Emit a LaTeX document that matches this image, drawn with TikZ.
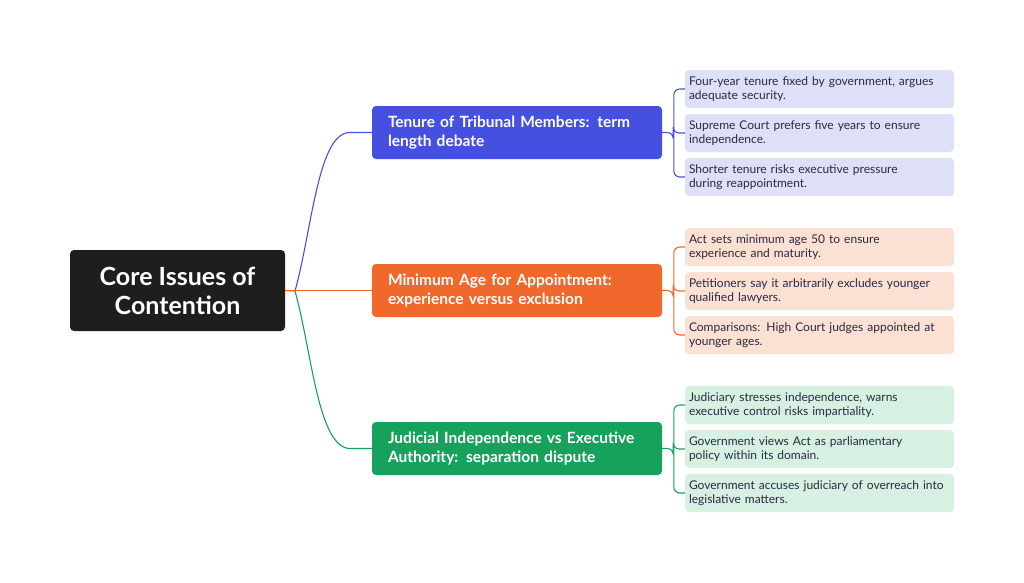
\documentclass[tikz,border=0pt]{standalone}
\usepackage{fontspec}
\setmainfont{Lato}
\begin{document}
\begin{tikzpicture}[x=1pt,y=-1pt,
 root/.style={fill=rootc,rounded corners=4pt,text=white,font=\fontsize{25}{29}\selectfont\bfseries,align=center,minimum width=215pt,minimum height=81pt},
 br/.style={rounded corners=4pt,text=white,font=\fontsize{15.5}{19}\selectfont\bfseries,align=left,text width=258pt,inner xsep=16pt,minimum height=53pt},
 lf/.style={rounded corners=4pt,text=leaftext,font=\fontsize{12}{14}\selectfont,align=left,text width=261pt,inner xsep=4pt,minimum height=38pt},
 ln/.style={line width=1.1pt,rounded corners=6pt}]
\definecolor{rootc}{HTML}{1E1E1E}
\definecolor{bl}{HTML}{4650E0}\definecolor{blL}{HTML}{DEE0F8}
\definecolor{or}{HTML}{F0682C}\definecolor{orL}{HTML}{FBE1D4}
\definecolor{gr}{HTML}{16A25C}\definecolor{grL}{HTML}{D6F1E2}
\definecolor{leaftext}{HTML}{2A2A40}
\useasboundingbox (0,0) rectangle (1024,582);
\node[root] (r) at (177.5,290.5) {Core Issues of\\Contention};
\node[br,fill=bl] (b1) at (517,132.5) {Tenure of Tribunal Members: term\\length debate};
\node[br,fill=or] (b2) at (517,290.5) {Minimum Age for Appointment:\\experience versus exclusion};
\node[br,fill=gr] (b3) at (517,448.5) {Judicial Independence vs Executive\\Authority: separation dispute};
\node[lf,fill=blL] (l11) at (819.5,89) {Four-year tenure fixed by government, argues\\adequate security.};
\node[lf,fill=blL] (l12) at (819.5,133) {Supreme Court prefers five years to ensure\\independence.};
\node[lf,fill=blL] (l13) at (819.5,177) {Shorter tenure risks executive pressure\\during reappointment.};
\node[lf,fill=orL] (l21) at (819.5,247) {Act sets minimum age 50 to ensure\\experience and maturity.};
\node[lf,fill=orL] (l22) at (819.5,291) {Petitioners say it arbitrarily excludes younger\\qualified lawyers.};
\node[lf,fill=orL] (l23) at (819.5,335) {Comparisons: High Court judges appointed at\\younger ages.};
\node[lf,fill=grL] (l31) at (819.5,405) {Judiciary stresses independence, warns\\executive control risks impartiality.};
\node[lf,fill=grL] (l32) at (819.5,449) {Government views Act as parliamentary\\policy within its domain.};
\node[lf,fill=grL] (l33) at (819.5,493) {Government accuses judiciary of overreach into\\legislative matters.};
\coordinate (s) at (295,291);
\draw[bl,line width=1.1pt] (r.east) -- (s) .. controls (312,230) and (318,132) .. (350,132.5) -- (b1.west);
\draw[or,line width=1.1pt] (r.east) -- (b2.west);
\draw[gr,line width=1.1pt] (s) .. controls (312,352) and (318,448) .. (350,448.5) -- (b3.west);
\foreach \b/\c/\i in {b1/bl/1,b2/or/2,b3/gr/3}{
 \draw[\c,ln] (\b.east) -- ++(11,0) |- (l\i2.west);
 \draw[\c,ln] (l\i1.west) -- ++(-11,0) |- (l\i3.west);
}
\end{tikzpicture}
\end{document}
